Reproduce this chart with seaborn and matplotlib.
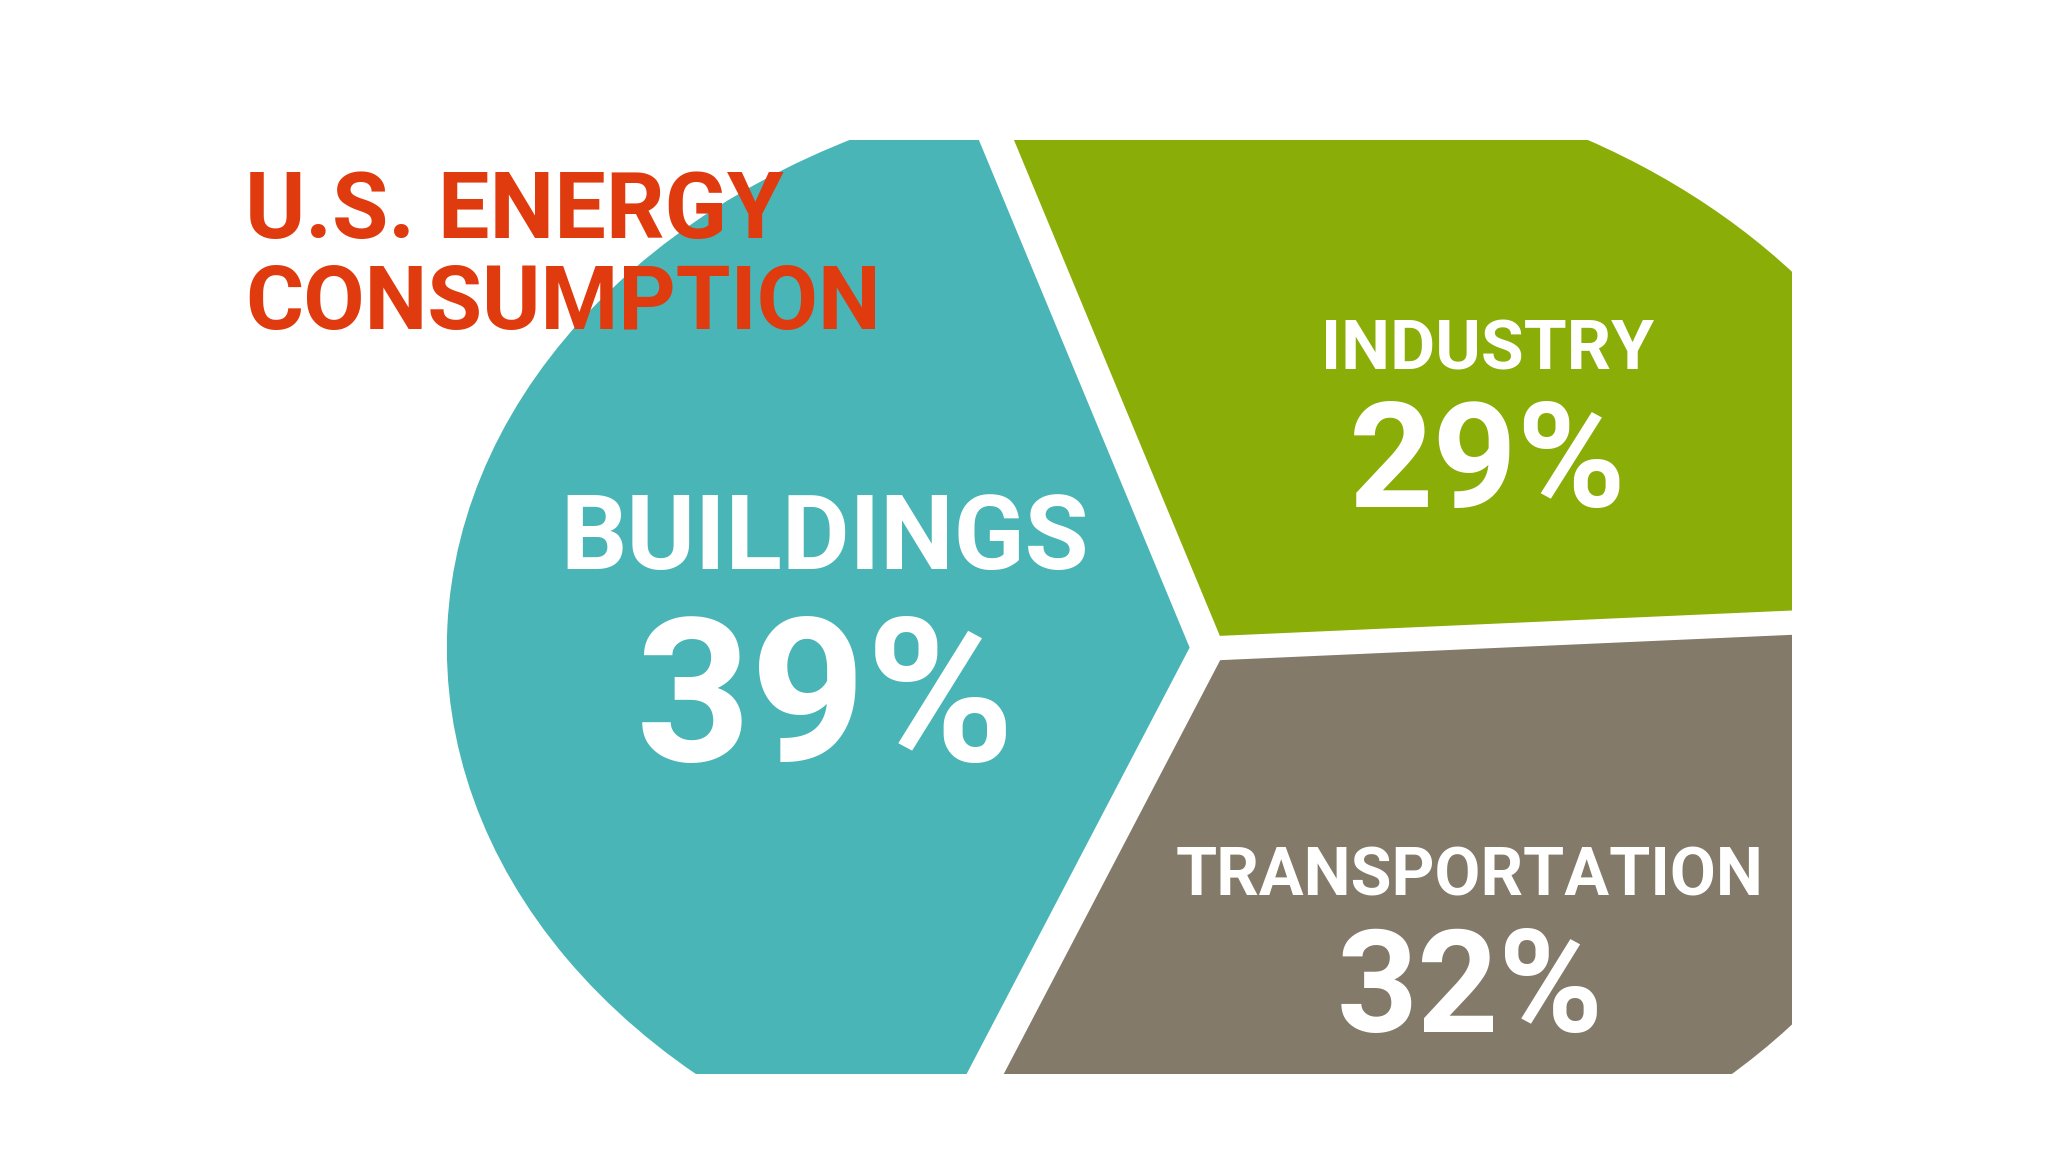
#%%
import matplotlib
matplotlib.use("Agg")
import matplotlib.pyplot as plt
import seaborn as sns

#%%
# data
sectors = ["INDUSTRY", "BUILDINGS", "TRANSPORTATION"]
shares = [29, 39, 32]
share_labels = ["29%", "39%", "32%"]
colors = ["#8BAD08", "#49B5B6", "#837A69"]
title_lines = ["U.S. ENERGY", "CONSUMPTION"]

#%%
sns.set_theme(style="white")
plt.rcParams['font.family'] = ['Roboto', 'DejaVu Sans']

fig = plt.figure(figsize=(20.48, 11.52), dpi=100)
fig.patch.set_facecolor("white")

# axes box is also the clip box of the pie (top, bottom, right are cut off)
ax = fig.add_axes([380 / 2048, 1 - 1074 / 1152, 1412 / 2048, 934 / 1152])
wedges, _ = ax.pie(shares, colors=colors, startangle=3.3, counterclock=True,
                   explode=[0.026, 0.026, 0.026],
                   wedgeprops=dict(edgecolor="none", linewidth=0))
ax.set_aspect("auto")  # picture is stretched, pie becomes an ellipse
ax.set_xlim(-1.116, 0.785)
ax.set_ylim(-0.746, 0.890)
ax.axis("off")
for w in wedges:
    w.set_clip_on(True)

#%%
def px(x, y):
    return x / 2048, 1 - y / 1152

# title
fig.text(*px(245, 238), title_lines[0], color="#E03B0F", fontsize=66,
         fontweight="bold", ha="left", va="baseline")
fig.text(*px(245, 329), title_lines[1], color="#E03B0F", fontsize=64,
         fontweight="bold", ha="left", va="baseline")

# sector labels (x center, baseline of name, baseline of share, sizes)
label_pos = {
    "INDUSTRY": (1488, 370, 507, 50, 106),
    "BUILDINGS": (825, 569, 761, 75, 145),
    "TRANSPORTATION": (1470, 896, 1032, 48, 102),
}
for name, lab in zip(sectors, share_labels):
    x, yn, ys, fs_n, fs_s = label_pos[name]
    fig.text(*px(x, yn), name, color="white", fontsize=fs_n,
             fontweight="bold", ha="center", va="baseline")
    fig.text(*px(x, ys), lab, color="white", fontsize=fs_s,
             fontweight="bold", ha="center", va="baseline")

fig.savefig("out.png", dpi=100, facecolor="white")
